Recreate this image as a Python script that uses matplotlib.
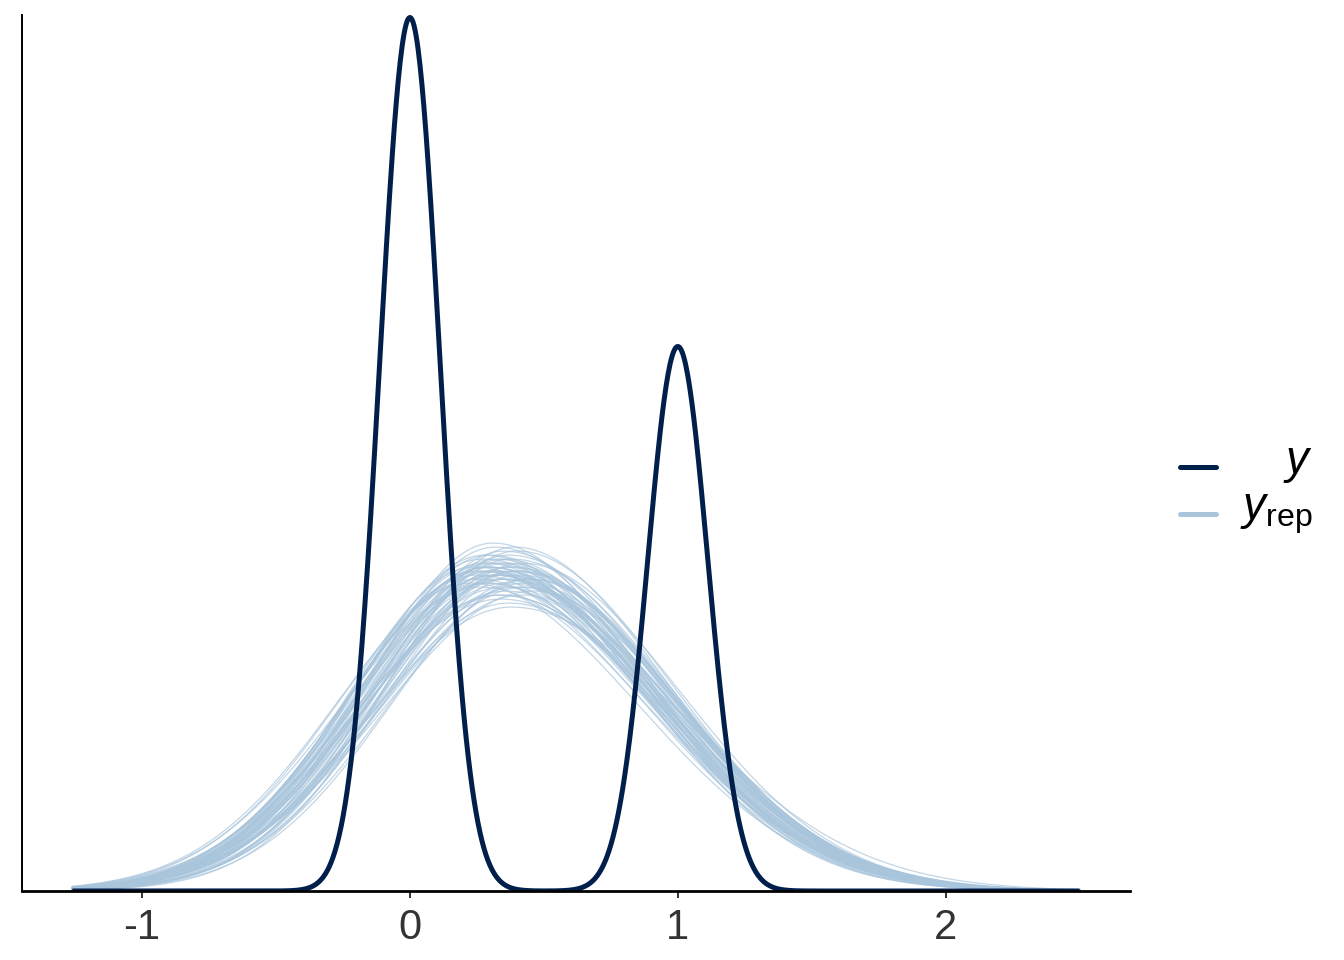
import numpy as np
import matplotlib
matplotlib.use("Agg")
import matplotlib.pyplot as plt
from matplotlib.lines import Line2D

plt.rcParams["font.family"] = ["Liberation Sans", "DejaVu Sans"]
plt.rcParams["mathtext.fontset"] = "custom"
plt.rcParams["mathtext.it"] = "Liberation Sans:italic"
plt.rcParams["mathtext.rm"] = "Liberation Sans"

# observed outcome: binary values and their counts
y_values = [0, 1]
y_counts = [616, 384]
y_bw = 0.1125

# replicated draws, summarised per draw: mode, peak height, left / right spread
rep_mode = [0.31, 0.36, 0.28, 0.42, 0.33, 0.25, 0.39, 0.35, 0.30, 0.44,
            0.27, 0.37, 0.34, 0.40, 0.29, 0.32, 0.46, 0.24, 0.38, 0.35,
            0.31, 0.43, 0.26, 0.36, 0.33, 0.41, 0.30, 0.37, 0.22, 0.39,
            0.34, 0.28, 0.45, 0.32, 0.36, 0.29, 0.40, 0.35, 0.27, 0.38,
            0.33, 0.30, 0.41, 0.26, 0.37, 0.34, 0.43, 0.29, 0.36, 0.32,
            0.39, 0.25, 0.35, 0.31, 0.42, 0.28, 0.38, 0.34, 0.30, 0.36]
rep_peak = [0.80, 0.77, 0.84, 0.74, 0.82, 0.79, 0.86, 0.76, 0.81, 0.78,
            0.83, 0.72, 0.80, 0.85, 0.77, 0.79, 0.75, 0.81, 0.83, 0.78,
            0.87, 0.76, 0.80, 0.82, 0.74, 0.79, 0.84, 0.81, 0.77, 0.80,
            0.73, 0.82, 0.78, 0.86, 0.79, 0.81, 0.76, 0.83, 0.80, 0.71,
            0.78, 0.82, 0.80, 0.76, 0.84, 0.79, 0.77, 0.81, 0.75, 0.83,
            0.80, 0.78, 0.85, 0.79, 0.82, 0.77, 0.81, 0.74, 0.80, 0.78]
rep_sd_left = [0.50, 0.52, 0.48, 0.54, 0.49, 0.51, 0.47, 0.53, 0.50, 0.55,
               0.48, 0.52, 0.51, 0.49, 0.50, 0.53, 0.56, 0.47, 0.50, 0.52,
               0.46, 0.54, 0.49, 0.51, 0.53, 0.50, 0.48, 0.52, 0.47, 0.51,
               0.55, 0.49, 0.52, 0.48, 0.50, 0.51, 0.53, 0.49, 0.50, 0.54,
               0.51, 0.49, 0.52, 0.50, 0.48, 0.53, 0.50, 0.51, 0.54, 0.49,
               0.50, 0.52, 0.47, 0.51, 0.50, 0.53, 0.49, 0.52, 0.50, 0.51]
rep_sd_right = [0.60, 0.62, 0.58, 0.59, 0.61, 0.63, 0.57, 0.62, 0.60, 0.56,
                0.64, 0.61, 0.59, 0.58, 0.62, 0.60, 0.55, 0.63, 0.60, 0.61,
                0.57, 0.58, 0.62, 0.60, 0.64, 0.59, 0.58, 0.61, 0.63, 0.59,
                0.62, 0.60, 0.56, 0.58, 0.61, 0.60, 0.59, 0.57, 0.62, 0.65,
                0.61, 0.60, 0.58, 0.63, 0.59, 0.60, 0.57, 0.62, 0.61, 0.59,
                0.60, 0.62, 0.58, 0.61, 0.59, 0.63, 0.60, 0.61, 0.58, 0.60]

data_range = (-1.26, 2.50)
x_ticks = [-1, 0, 1, 2]

DARK = "#011f4b"
LIGHT = "#a9c5dc"

W, H = 1344, 960
fig = plt.figure(figsize=(W / 100, H / 100), dpi=100)
ax = fig.add_axes([22 / W, 1 - 891 / H, (1130 - 22) / W, (891 - 15) / H])

grid = np.linspace(data_range[0], data_range[1], 1024)

# kernel density of the observed values
n = sum(y_counts)
y_dens = np.zeros_like(grid)
for v, c in zip(y_values, y_counts):
    y_dens += c * np.exp(-0.5 * ((grid - v) / y_bw) ** 2)
y_dens /= n * y_bw * np.sqrt(2 * np.pi)

for m, h, sl, sr in zip(rep_mode, rep_peak, rep_sd_left, rep_sd_right):
    sd = np.where(grid < m, sl, sr)
    d = h * np.exp(-0.5 * ((grid - m) / sd) ** 2)
    ax.plot(grid, d, color=LIGHT, lw=0.9, alpha=0.7, zorder=2)

ax.plot(grid, y_dens, color=DARK, lw=3.6, zorder=3, solid_capstyle="butt")

span = data_range[1] - data_range[0]
ax.set_xlim(data_range[0] - 0.05 * span, data_range[1] + 0.05 * span)
ax.set_ylim(0, y_dens.max() * (1 + 2.5 / 875))

for s in ["top", "right"]:
    ax.spines[s].set_visible(False)
ax.spines["left"].set_linewidth(1.4)
ax.spines["bottom"].set_linewidth(2.0)
ax.spines["bottom"].set_zorder(4)

ax.set_yticks([])
ax.set_xticks(x_ticks)
ax.set_xticklabels([str(t) for t in x_ticks])
ax.tick_params(axis="x", length=5, width=1.4, color="#333333",
               labelsize=30, labelcolor="#333333", pad=7)

# legend
def fx(px):
    return px / W

def fy(py):
    return 1 - py / H

fig.add_artist(Line2D([fx(1180), fx(1216)], [fy(467), fy(467)], color=DARK,
                      lw=3.6, solid_capstyle="round"))
fig.add_artist(Line2D([fx(1180), fx(1216)], [fy(514), fy(514)], color=LIGHT,
                      lw=3.6, solid_capstyle="round"))
fig.text(fx(1313), fy(473), r"$y$", ha="right", va="baseline", fontsize=33)
fig.text(fx(1313), fy(520), r"$y_{\mathrm{rep}}$", ha="right", va="baseline",
         fontsize=33)

fig.savefig("out.png", dpi=100, facecolor="white")
